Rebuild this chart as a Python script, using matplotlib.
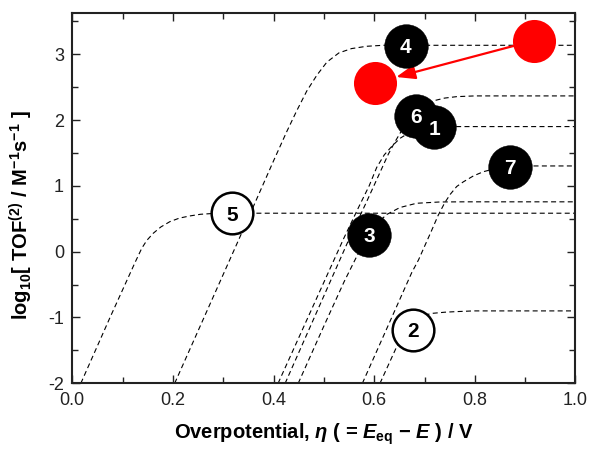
import matplotlib
matplotlib.use('Agg')
import matplotlib.pyplot as plt
from matplotlib.ticker import MultipleLocator

# ---------------- data ----------------
eta_1 = [0.409, 0.54, 0.57, 0.59, 0.605, 0.62, 0.635, 0.651, 0.67, 0.69, 0.72, 0.76, 1.0]
log_1 = [-2.0, 0.21, 0.69, 1.0, 1.28, 1.47, 1.60, 1.72, 1.81, 1.86, 1.89, 1.90, 1.90]

eta_2 = [0.6115, 0.6447, 0.66, 0.675, 0.69, 0.705, 0.717, 0.74, 0.76, 0.797, 1.0]
log_2 = [-2.0, -1.444, -1.24, -1.09, -1.0, -0.955, -0.936, -0.92, -0.912, -0.90, -0.90]

eta_3 = [0.449, 0.50, 0.54, 0.57, 0.59, 0.61, 0.625, 0.651, 0.684, 0.731, 0.78, 1.0]
log_3 = [-2.0, -1.13, -0.46, 0.0, 0.26, 0.46, 0.565, 0.67, 0.735, 0.755, 0.757, 0.757]

eta_4 = [0.2035, 0.333, 0.363, 0.40, 0.426, 0.446, 0.466, 0.486, 0.506, 0.53, 0.555, 0.585, 0.618, 1.0]
log_4 = [-2.0, 0.22, 0.74, 1.38, 1.82, 2.14, 2.44, 2.68, 2.88, 3.02, 3.085, 3.12, 3.135, 3.135]

eta_5 = [0.017, 0.075, 0.125, 0.138, 0.148, 0.161, 0.176, 0.194, 0.213, 0.234, 0.255, 0.28, 0.32, 1.0]
log_5 = [-2.0, -1.0, -0.16, 0.05, 0.17, 0.28, 0.375, 0.456, 0.51, 0.543, 0.568, 0.58, 0.584, 0.584]

eta_6 = [0.423, 0.55, 0.585, 0.628, 0.641, 0.655, 0.67, 0.685, 0.70, 0.717, 0.74, 0.764, 0.80, 1.0]
log_6 = [-2.0, 0.19, 0.76, 1.48, 1.665, 1.845, 2.01, 2.135, 2.225, 2.29, 2.333, 2.355, 2.366, 2.366]

eta_7 = [0.5765, 0.6745, 0.688, 0.70, 0.714, 0.727, 0.74, 0.751, 0.764, 0.777, 0.797, 0.817, 0.84, 0.87, 0.91, 1.0]
log_7 = [-2.0, -0.32, -0.126, 0.08, 0.32, 0.55, 0.74, 0.87, 0.99, 1.06, 1.15, 1.215, 1.26, 1.29, 1.302, 1.302]

curves = [(eta_1, log_1), (eta_2, log_2), (eta_3, log_3), (eta_4, log_4),
          (eta_5, log_5), (eta_6, log_6), (eta_7, log_7)]

# catalyst number labels
label_text = ['4', '6', '1', '7', '3', '2', '5']
label_eta = [0.6626, 0.683, 0.7189, 0.8698, 0.5896, 0.677, 0.318]
label_log = [3.131, 2.067, 1.891, 1.292, 0.254, -1.19, 0.584]
open_labels = ['2', '5']

# red circles (arrow from first to second)
red_eta = [0.9175, 0.6016]
red_log = [3.207, 2.568]

# ---------------- style ----------------
plt.rcParams.update({
    'font.family': ['Liberation Sans', 'DejaVu Sans'],
    'mathtext.fontset': 'custom',
    'mathtext.rm': 'Liberation Sans:bold',
    'mathtext.it': 'Liberation Sans:italic:bold',
    'mathtext.bf': 'Liberation Sans:bold',
    'mathtext.sf': 'Liberation Sans:bold',
    'axes.unicode_minus': False,
    'lines.scale_dashes': False,
})

fig = plt.figure(figsize=(5.9, 4.49), dpi=100)
ax = fig.add_axes([0.1225, 0.1463, 0.8529, 0.8254])

for x, y in curves:
    ax.plot(x, y, color='black', lw=0.8, dashes=(3.6, 2.4), zorder=2)

for t, x, y in zip(label_text, label_eta, label_log):
    if t in open_labels:
        ax.plot([x], [y], 'o', ms=30, mfc='white', mec='black', mew=1.8, zorder=4)
        col = 'black'
    else:
        ax.plot([x], [y], 'o', ms=31.5, mfc='black', mec='black', mew=0.3, zorder=4)
        col = 'white'
    ax.text(x, y, t, ha='center', va='center_baseline', fontsize=15,
            fontweight='bold', color=col, zorder=5)

ax.annotate('', xy=(red_eta[1], red_log[1]), xytext=(red_eta[0], red_log[0]),
            arrowprops=dict(arrowstyle='-|>,head_length=0.95,head_width=0.36',
                            color='red', lw=1.6, shrinkA=0, shrinkB=15.8,
                            mutation_scale=12), zorder=3)
ax.plot(red_eta, red_log, 'o', ms=31, color='red', mec='none', ls='none', zorder=4)

ax.set_xlim(0, 1.0)
ax.set_ylim(-2, 3.63)
ax.xaxis.set_major_locator(MultipleLocator(0.2))
ax.xaxis.set_minor_locator(MultipleLocator(0.1))
ax.yaxis.set_major_locator(MultipleLocator(1))
ax.yaxis.set_minor_locator(MultipleLocator(0.5))
ax.tick_params(which='both', direction='in', top=True, right=True,
               labelsize=13, width=1.0, color='#222222', labelcolor='#222222')
ax.tick_params(which='major', length=6, pad=6)
ax.tick_params(which='minor', length=4)
for s in ax.spines.values():
    s.set_linewidth(1.5)
    s.set_color('#222222')

ax.set_xlabel('Overpotential, $\\eta$ ( = $E_{\\mathrm{eq}}$ \u2212 $E$ ) / V',
              fontsize=14.5, fontweight='bold', labelpad=9)
ax.set_ylabel('$\\mathrm{log_{10}[\\ TOF^{(2)}\\ /\\ M^{-1}s^{-1}\\ ]}$',
              fontsize=14.5)
ax.yaxis.set_label_coords(-0.074, 0.454)

fig.savefig('out.png', dpi=100)
